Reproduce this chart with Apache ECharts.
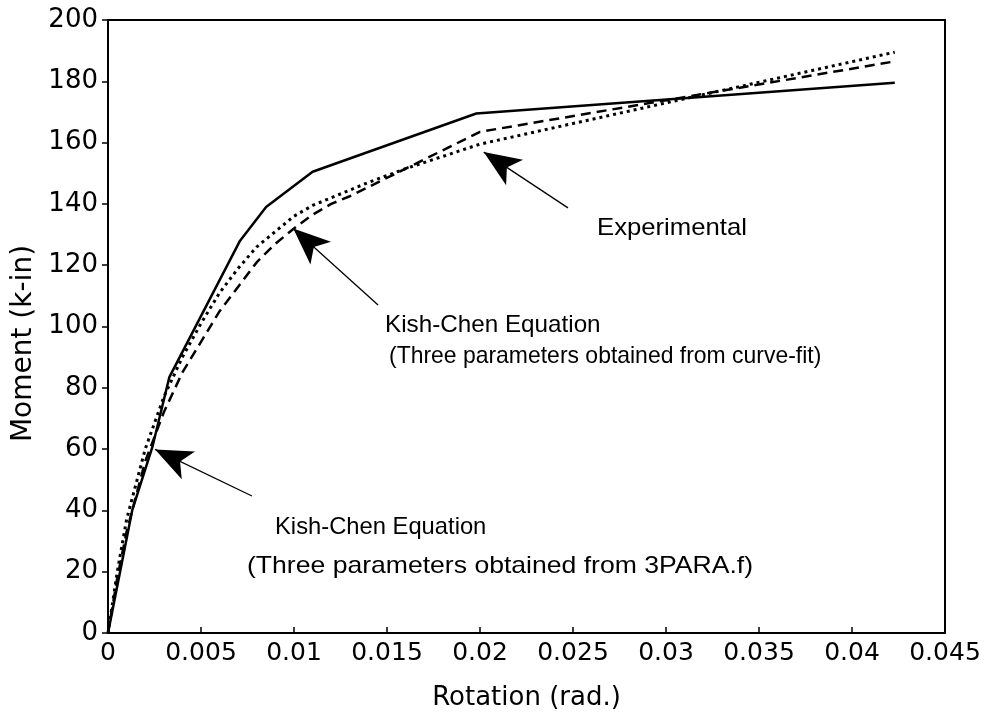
<!DOCTYPE html>
<html>
<head>
<meta charset="utf-8">
<script src="https://cdn.jsdelivr.net/npm/echarts@6/dist/echarts.min.js"></script>
<style>html,body{margin:0;padding:0;background:#fff}#c{width:990px;height:718px}</style>
</head>
<body>
<div id="c"></div>
<script>
// Experimental (solid)
const expRot = [0, 0.00065, 0.0013, 0.0024, 0.0033, 0.0071, 0.0085, 0.011, 0.0198, 0.0423];
const expMom = [0, 20, 40, 61, 83.5, 128, 139, 150.5, 169.5, 179.5];
// Kish-Chen, three parameters from curve-fit (dashed)
const fitRot = [0, 0.0005, 0.001, 0.002, 0.003, 0.004, 0.005, 0.006, 0.007, 0.008, 0.009, 0.010, 0.011, 0.012, 0.013, 0.014, 0.016, 0.018, 0.020, 0.0423];
const fitMom = [0, 18, 33, 56, 72, 85, 95, 105, 113, 121, 127, 132, 136.5, 140, 142.5, 145.5, 151.5, 157.5, 163.5, 186.5];
// Kish-Chen, three parameters from 3PARA.f (dotted)
const paraRot = [0, 0.0005, 0.001, 0.002, 0.003, 0.004, 0.005, 0.006, 0.007, 0.008, 0.009, 0.010, 0.011, 0.012, 0.013, 0.014, 0.016, 0.018, 0.020, 0.0423];
const paraMom = [0, 20, 37, 60, 77, 90, 101, 111, 119, 126, 131, 136, 139.5, 142, 144.5, 147, 151.5, 155.5, 159.5, 189.5];

const xMin = 0, xMax = 0.045, xStep = 0.005;
const yMin = 0, yMax = 200, yStep = 20;
const xTitle = 'Rotation (rad.)';
const yTitle = 'Moment (k-in)';

// annotation arrows [tail, tip] in data coordinates
const arrowExp = [[0.02473, 138.7], [0.0202, 156.9]];
const arrowFit = [[0.01452, 107], [0.00996, 132]];
const arrowPara = [[0.00774, 44.7], [0.00253, 59.9]];

const labelExp = ['Experimental'];
const labelFit = ['Kish-Chen Equation', '(Three parameters obtained from curve-fit)'];
const labelPara = ['Kish-Chen Equation', '(Three parameters obtained from 3PARA.f)'];

const FONT = 'DejaVu Sans';
const ANN_FONT = '24px "Liberation Sans"';
const zip = (a, b) => a.map((v, i) => [v, b[i]]);

function arrowML(pair) {
  return [{ coord: pair[0], symbol: 'none' }, { coord: pair[1], symbol: 'arrow', symbolSize: [23, 37] }];
}
function ann(text, x, y, sx) {
  return { type: 'text', x: x, y: y, scaleX: sx, style: { text: text, font: ANN_FONT, fill: '#000', verticalAlign: 'middle', align: 'left' } };
}

const chart = echarts.init(document.getElementById('c'), null, { renderer: 'canvas' });
chart.setOption({
  animation: false,
  backgroundColor: '#fff',
  grid: { left: 108, right: 45, top: 20, bottom: 85, show: true, borderColor: '#000', borderWidth: 2, backgroundColor: 'transparent' },
  xAxis: {
    type: 'value', min: xMin, max: xMax, interval: xStep,
    name: xTitle, nameLocation: 'middle', nameGap: 52,
    nameTextStyle: { fontFamily: FONT, fontSize: 26, color: '#000' },
    axisLine: { show: true, lineStyle: { color: '#000', width: 2 } },
    axisTick: { show: true, inside: true, length: 6, lineStyle: { color: '#000', width: 1.5 } },
    axisLabel: { fontFamily: FONT, fontSize: 25, color: '#000', margin: 8,
      formatter: v => v === 0 ? '0' : String(+v.toFixed(3)) },
    splitLine: { show: false }
  },
  yAxis: {
    type: 'value', min: yMin, max: yMax, interval: yStep,
    name: yTitle, nameLocation: 'middle', nameGap: 60,
    nameTextStyle: { fontFamily: FONT, fontSize: 28, color: '#000', padding: [0, 34, 0, 0] },
    axisLine: { show: true, lineStyle: { color: '#000', width: 2 } },
    axisTick: { show: true, inside: false, length: 6, lineStyle: { color: '#000', width: 1.5 } },
    axisLabel: { fontFamily: FONT, fontSize: 26, color: '#000', margin: 10 },
    splitLine: { show: false }
  },
  series: [
    {
      name: 'Experimental', type: 'line', data: zip(expRot, expMom), showSymbol: false,
      lineStyle: { color: '#000', width: 2.5, type: 'solid' },
      markLine: {
        silent: true, animation: false, label: { show: false },
        lineStyle: { color: '#000', width: 1.3, type: 'solid' },
        itemStyle: { color: '#000' },
        data: [arrowML(arrowExp), arrowML(arrowFit), arrowML(arrowPara)]
      }
    },
    {
      name: 'Kish-Chen (curve-fit)', type: 'line', data: zip(fitRot, fitMom), showSymbol: false,
      lineStyle: { color: '#000', width: 2.5, type: [10, 6] }
    },
    {
      name: 'Kish-Chen (3PARA.f)', type: 'line', data: zip(paraRot, paraMom), showSymbol: false,
      lineStyle: { color: '#000', width: 3, type: [3, 4] }
    }
  ],
  graphic: [
    ann(labelExp[0], 597, 228, 1.07),
    ann(labelFit[0], 385, 325, 1.01),
    ann(labelFit[1], 389, 356, 0.956),
    ann(labelPara[0], 275, 527, 0.99),
    ann(labelPara[1], 247, 566, 1.107)
  ]
});
</script>
</body>
</html>
